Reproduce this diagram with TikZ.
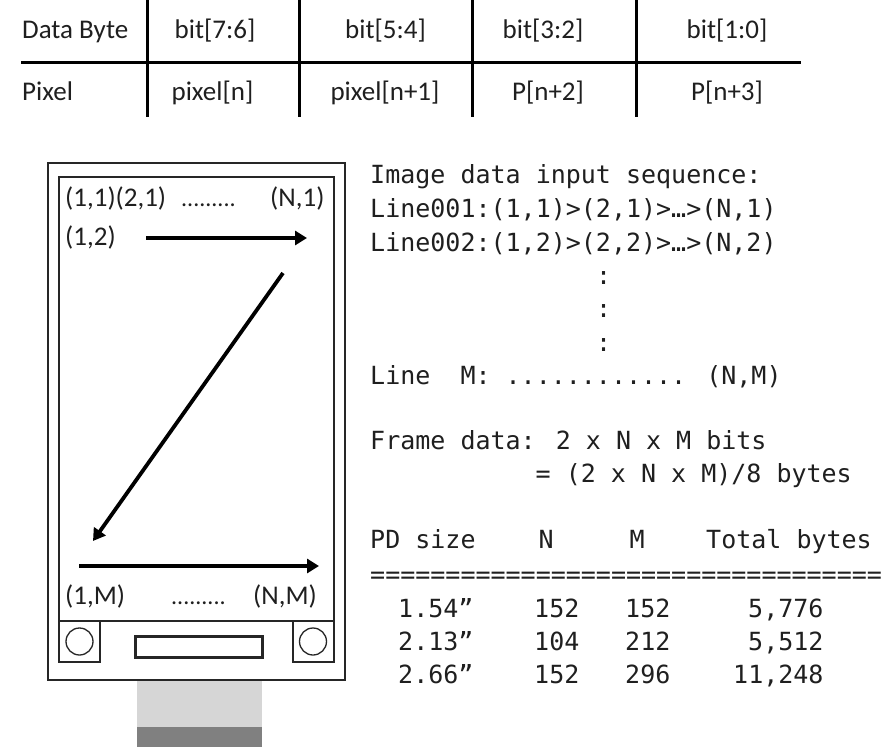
\documentclass[tikz,border=0pt]{standalone}
\usepackage{fontspec}
\setmainfont{Carlito}
\newfontfamily\monof{DejaVu Sans Mono}
\usetikzlibrary{arrows.meta}
\tikzset{
 x=1pt,y=-1pt,
 cell/.style={font=\fontsize{27}{27}\selectfont,anchor=base,inner sep=0pt,text=black!88},
 lab/.style={font=\fontsize{27}{27}\selectfont,anchor=base west,inner sep=0pt,text=black!88},
 dotrow/.style={font=\fontsize{24}{24}\selectfont,anchor=base west,inner sep=0pt,text=black!88},
 mono/.style={font=\monof\fontsize{25}{25}\selectfont,anchor=base west,inner sep=0pt,text=black!88},
 rule/.style={line width=3pt},
 frameline/.style={line width=1.3pt,black!85},
 arrow/.style={line width=3.8pt,-{Triangle[length=12pt,width=14pt]}},
}
\begin{document}
\begin{tikzpicture}
\useasboundingbox (0,0) rectangle (895,747);
% table
\coordinate (v1t) at (147,0); \coordinate (v1b) at (147,117);
\coordinate (v2t) at (299,0); \coordinate (v2b) at (299,117);
\coordinate (v3t) at (472,0); \coordinate (v3b) at (472,117);
\coordinate (v4t) at (636,0); \coordinate (v4b) at (636,117);
\coordinate (hl) at (21,62); \coordinate (hr) at (801,62);
\draw[rule] (hl) -- (hr);
\draw[rule] (v1t) -- (v1b);
\draw[rule] (v2t) -- (v2b);
\draw[rule] (v3t) -- (v3b);
\draw[rule] (v4t) -- (v4b);
\node[lab] (t1) at (22,38) {Data Byte};
\node[cell] (t2) at (215,38) {bit[7:6]};
\node[cell] (t3) at (385.5,38) {bit[5:4]};
\node[cell] (t4) at (543,38) {bit[3:2]};
\node[cell] (t5) at (727,38) {bit[1:0]};
\node[lab] (b1) at (22,100) {Pixel};
\node[cell] (b2) at (212.5,100) {pixel[n]};
\node[cell] (b3) at (385,100) {pixel[n+1]};
\node[cell] (b4) at (548,100) {P[n+2]};
\node[cell] (b5) at (727,100) {P[n+3]};
% module
\fill[black!16] (137,681) rectangle (262,727);
\fill[black!50] (137,727) rectangle (262,747);
\draw[frameline] (48,163) rectangle (345,680);
\draw[frameline] (59,177) rectangle (334,621);
\draw[frameline] (59,621) rectangle (100,662);
\draw[frameline] (293,621) rectangle (334,662);
\draw[frameline] (79.5,641.5) circle (13.5);
\draw[frameline] (313,641.5) circle (13.5);
\draw[line width=3pt,black!85] (135,636) rectangle (262,657);
\node[lab] (p11) at (65,206) {(1,1)(2,1)};
\node[dotrow] (pd1) at (181,206) {.........};
\node[lab] (pn1) at (270,206) {(N,1)};
\node[lab] (p12) at (65,245) {(1,2)};
\node[lab] (p1m) at (65,604) {(1,M)};
\node[dotrow] (pdm) at (171,604) {.........};
\node[lab] (pnm) at (253,604) {(N,M)};
\coordinate (a1s) at (146,238); \coordinate (a1e) at (307,238);
\coordinate (a2s) at (283,273); \coordinate (a2e) at (93,541);
\coordinate (a3s) at (79,566); \coordinate (a3e) at (319,566);
\draw[arrow] (a1s) -- (a1e);
\draw[arrow] (a2s) -- (a2e);
\draw[arrow] (a3s) -- (a3e);
% text
\node[mono] (m1) at (370,183) {Image data input sequence:};
\node[mono] (m2) at (370,217) {Line001:(1,1)>(2,1)>…>(N,1)};
\node[mono] (m3) at (370,251) {Line002:(1,2)>(2,2)>…>(N,2)};
\node[mono] (d1) at (596,284) {:};
\node[mono] (d2) at (596,317) {:};
\node[mono] (d3) at (596,351) {:};
\node[mono] (m4) at (370,384) {Line\ \ M: ............ (N,M)};
\node[mono] (m5) at (370,449) {Frame data: 2 x N x M bits};
\node[mono] (m6) at (535.5,482) {= (2 x N x M)/8 bytes};
\node[mono] (h1) at (370,548) {PD size};
\node[mono] (h2) at (538.5,548) {N};
\node[mono] (h3) at (629.5,548) {M};
\node[mono] (h4) at (706,548) {Total bytes};
\node[mono] (eq) at (370,583) {==================================};
\node[mono] (r11) at (398,617) {1.54”};
\node[mono] (r12) at (534,617) {152};
\node[mono] (r13) at (625,617) {152};
\node[mono] (r14) at (748,617) {5,776};
\node[mono] (r21) at (398,650) {2.13”};
\node[mono] (r22) at (534,650) {104};
\node[mono] (r23) at (625,650) {212};
\node[mono] (r24) at (748,650) {5,512};
\node[mono] (r31) at (398,683) {2.66”};
\node[mono] (r32) at (534,683) {152};
\node[mono] (r33) at (625,683) {296};
\node[mono] (r34) at (733,683) {11,248};
\end{tikzpicture}
\end{document}
